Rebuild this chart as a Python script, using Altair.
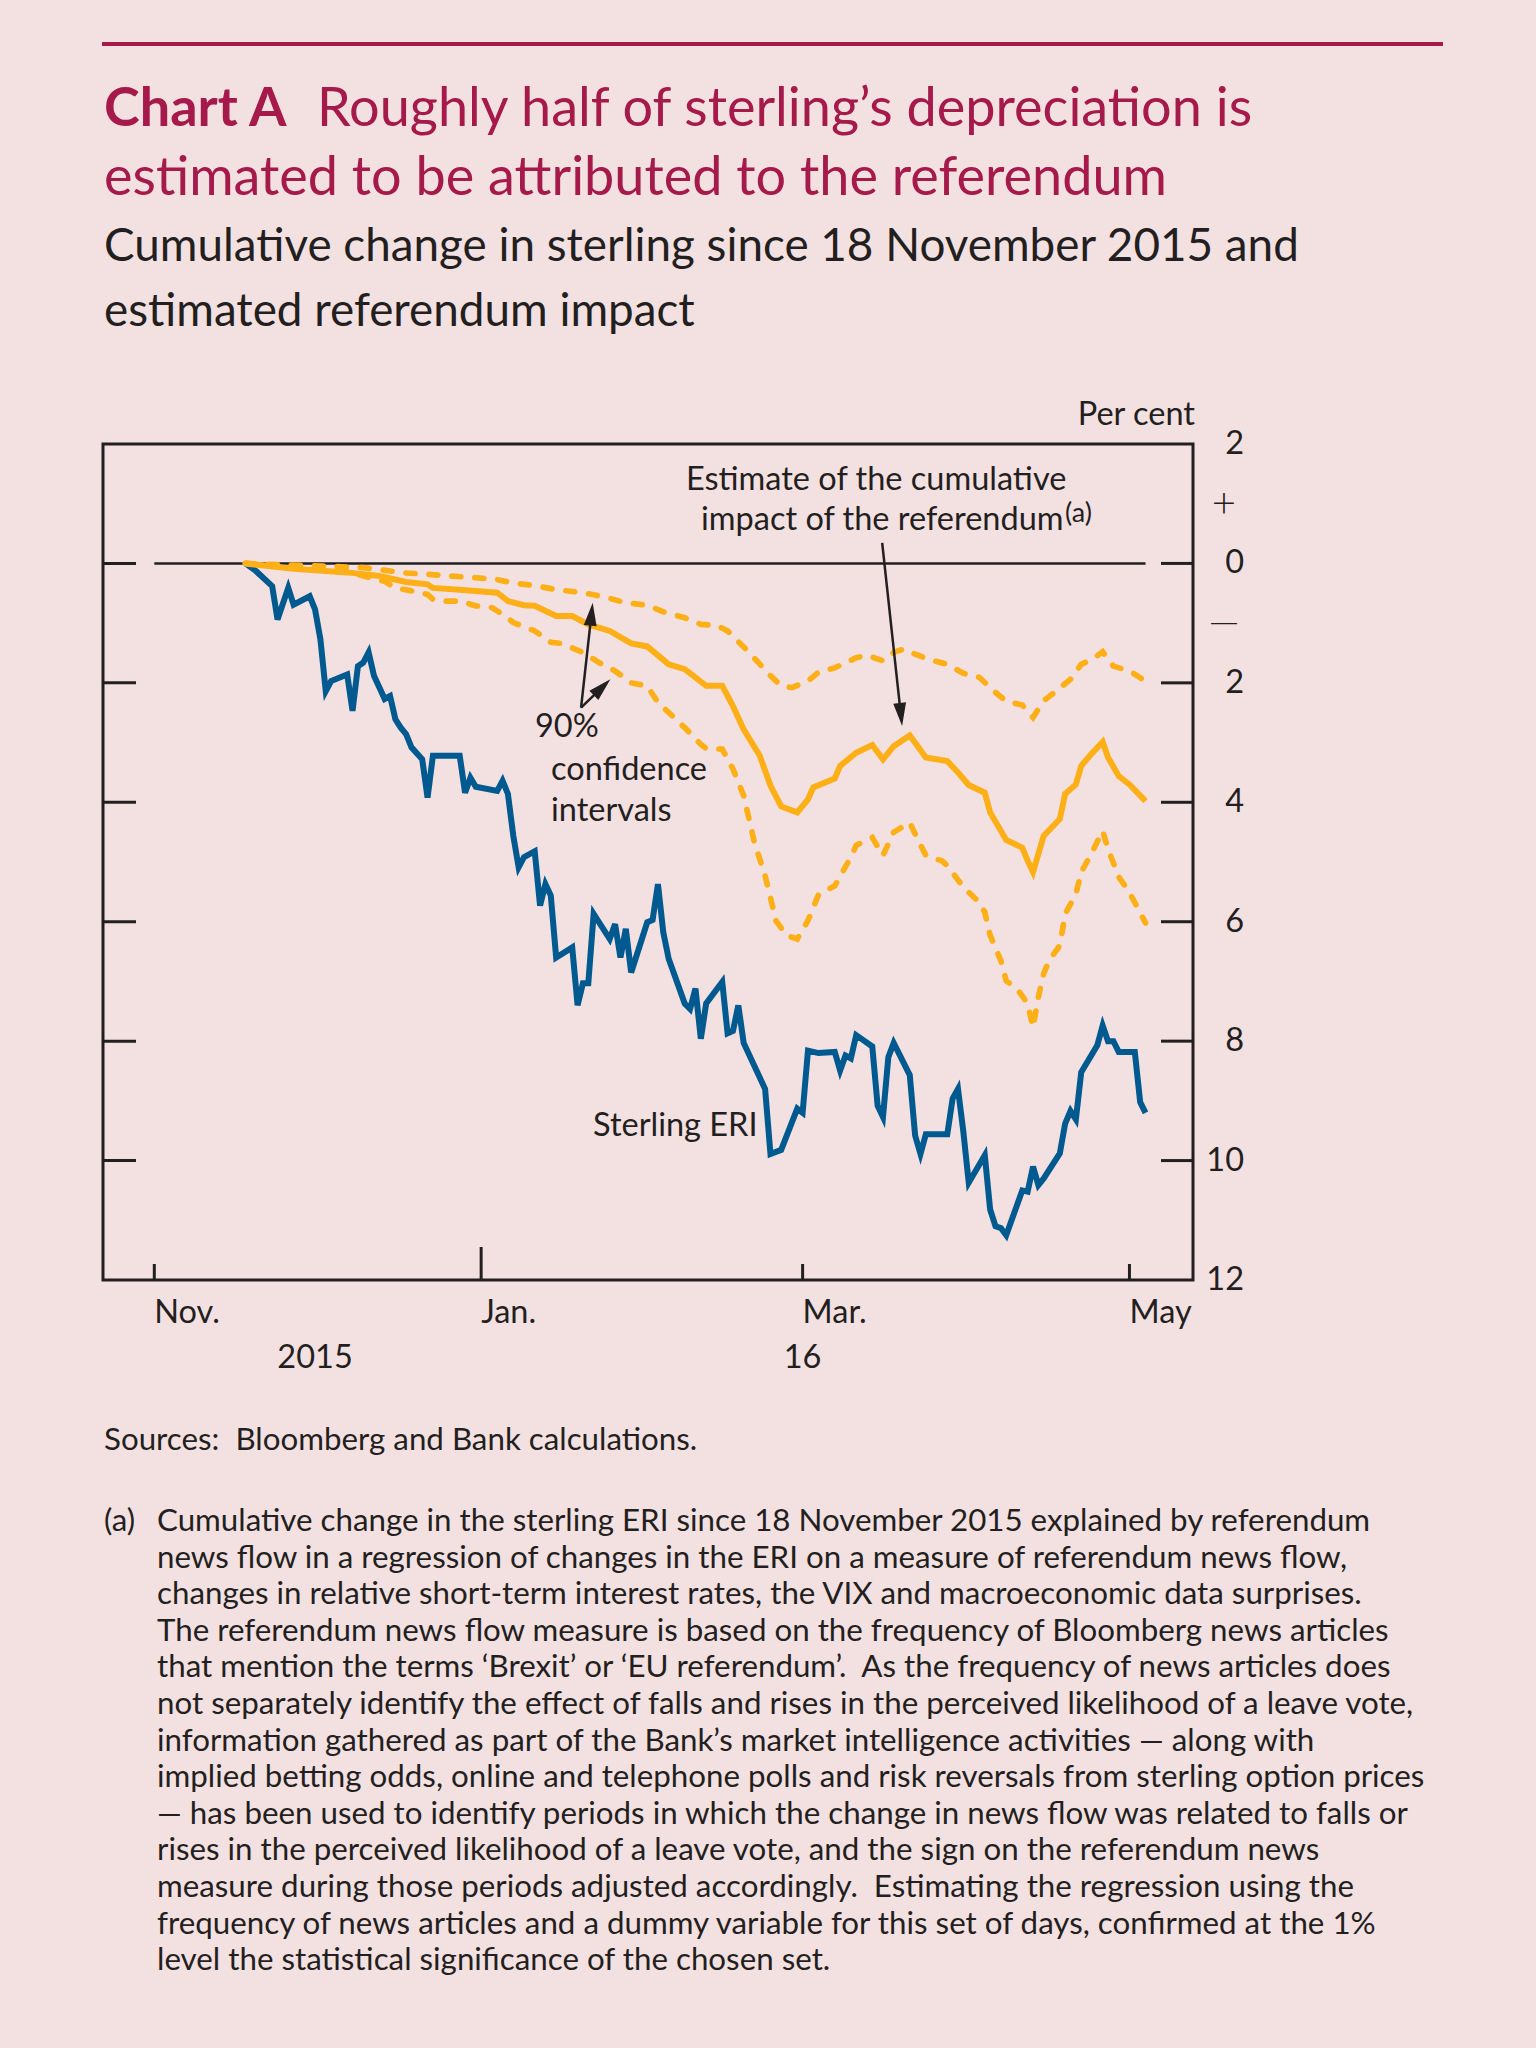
import altair as alt
import pandas as pd

# ---------------- data ----------------
START = "2015-11-18"   # day 0 of every series

# Sterling ERI, cumulative % change since 18 Nov 2015 (day offsets, values)
eri_days = [0, 2, 5, 6, 8, 9, 12, 13, 14, 15, 16, 19, 20, 21, 22, 23, 24, 26, 27, 28,
            29, 30, 31, 33, 34, 35, 40, 41, 42, 43, 47, 48, 49, 50, 51, 52, 54, 55, 56, 57,
            58, 61, 62, 63, 64, 65, 68, 69, 70, 71, 72, 75, 76, 77, 78, 79, 82, 83, 84, 85,
            86, 89, 90, 91, 92, 93, 97, 98, 100, 103, 104, 105, 107, 110, 111, 112, 113, 114, 117, 118,
            119, 120, 121, 124, 125, 126, 127, 131, 132, 133, 134, 135, 138, 139, 140, 141, 142, 145, 146, 147,
            148, 149, 152, 153, 154, 155, 156, 159, 160, 161, 162, 163, 166, 167, 168]
eri_vals = [0, -0.13, -0.38, -0.94, -0.41, -0.69, -0.55, -0.77, -1.27, -2.14, -1.97, -1.86, -2.47, -1.72, -1.66, -1.49, -1.88, -2.27, -2.22, -2.61,
            -2.75, -2.86, -3.08, -3.28, -3.92, -3.22, -3.22, -3.84, -3.59, -3.74, -3.81, -3.64, -3.86, -4.56, -5.09, -4.92, -4.82, -5.73, -5.37, -5.56,
            -6.60, -6.43, -7.40, -7.03, -7.03, -5.87, -6.29, -6.04, -6.60, -6.12, -6.85, -6.01, -5.97, -5.37, -6.18, -6.62, -7.37, -7.46, -7.12, -7.96,
            -7.37, -7.01, -7.87, -7.83, -7.40, -8.03, -8.80, -9.89, -9.82, -9.13, -9.20, -8.16, -8.20, -8.18, -8.49, -8.24, -8.29, -7.90, -8.09, -9.08,
            -9.27, -8.27, -8.03, -8.57, -9.58, -9.89, -9.56, -9.56, -8.96, -8.80, -9.52, -10.37, -9.91, -10.82, -11.10, -11.13, -11.25, -10.50, -10.52, -10.10,
            -10.41, -10.30, -9.88, -9.38, -9.17, -9.31, -8.52, -8.07, -7.74, -8.00, -8.00, -8.18, -8.18, -9.02, -9.20]

# Estimated cumulative referendum impact (central estimate)
est_days = [0, 9, 19, 25, 30, 34, 35, 40, 47, 49, 52, 54, 58, 61, 64, 68, 72, 75, 79, 82,
            86, 89, 91, 93, 96, 98, 100, 103, 105, 106, 110, 111, 114, 117, 119, 121, 124, 127, 131, 133,
            135, 138, 139, 142, 145, 146, 147, 149, 152, 153, 155, 156, 158, 160, 161, 163, 165, 168]
est_vals = [0, -0.09, -0.15, -0.21, -0.31, -0.35, -0.41, -0.44, -0.49, -0.63, -0.70, -0.71, -0.88, -0.88, -1.02, -1.13, -1.34, -1.39, -1.69, -1.77,
            -2.05, -2.05, -2.39, -2.78, -3.22, -3.72, -4.07, -4.17, -3.95, -3.75, -3.60, -3.39, -3.17, -3.04, -3.28, -3.06, -2.88, -3.25, -3.31, -3.50,
            -3.71, -3.84, -4.17, -4.63, -4.76, -4.98, -5.17, -4.56, -4.28, -3.86, -3.70, -3.39, -3.18, -2.99, -3.25, -3.56, -3.70, -3.98]

# 90% confidence interval, upper bound
upper_days = [0, 22, 30, 34, 38, 43, 47, 50, 54, 58, 63, 67, 71, 75, 78, 82, 85, 88, 90, 94,
              98, 100, 102, 105, 107, 110, 114, 116, 119, 121, 123, 125, 128, 131, 134, 137, 140, 142, 145, 147,
              149, 151, 154, 156, 158, 160, 162, 165, 168]
upper_vals = [0, -0.07, -0.16, -0.18, -0.21, -0.24, -0.27, -0.33, -0.37, -0.44, -0.49, -0.56, -0.66, -0.70, -0.81, -0.91, -1.02, -1.04, -1.13, -1.49,
              -1.88, -2.05, -2.08, -1.97, -1.82, -1.75, -1.58, -1.54, -1.63, -1.49, -1.43, -1.52, -1.62, -1.69, -1.84, -1.91, -2.16, -2.31, -2.37, -2.58,
              -2.30, -2.16, -1.94, -1.69, -1.61, -1.48, -1.72, -1.80, -1.97]

# 90% confidence interval, lower bound
lower_days = [0, 19, 22, 26, 28, 31, 34, 35, 37, 40, 43, 46, 48, 50, 52, 54, 57, 59, 63, 66,
              69, 72, 75, 77, 80, 82, 85, 86, 89, 91, 93, 95, 97, 98, 99, 101, 103, 105, 107, 110,
              113, 114, 117, 119, 121, 124, 125, 127, 130, 131, 134, 137, 138, 139, 141, 142, 144, 146, 147, 148,
              149, 150, 152, 153, 155, 156, 158, 160, 161, 163, 165, 167, 168]
lower_vals = [0, -0.13, -0.21, -0.30, -0.41, -0.46, -0.52, -0.60, -0.63, -0.63, -0.71, -0.74, -0.85, -0.99, -1.06, -1.13, -1.32, -1.34, -1.49, -1.66,
              -1.80, -2.00, -2.05, -2.33, -2.58, -2.75, -3.03, -3.10, -3.11, -3.44, -3.89, -4.67, -5.23, -5.60, -5.98, -6.23, -6.29, -5.98, -5.54, -5.40,
              -4.92, -4.72, -4.59, -4.89, -4.50, -4.34, -4.53, -4.89, -4.98, -5.06, -5.42, -5.68, -5.84, -6.23, -6.65, -6.99, -7.12, -7.37, -7.77, -7.26,
              -6.87, -6.65, -6.40, -5.87, -5.54, -5.17, -4.84, -4.48, -4.78, -5.25, -5.51, -5.85, -6.02]

month_tick_dates = ["2015-11-01", "2016-01-01", "2016-03-01", "2016-05-01"]
month_tick_labels = ["Nov.", "Jan.", "Mar.", "May"]
year_label_text = ["2015", "16"]
year_label_dates = ["2015-12-01", "2016-03-01"]
y_tick_values = [2, 0, -2, -4, -6, -8, -10, -12]
y_tick_labels = ["2", "0", "2", "4", "6", "8", "10", "12"]
sign_values = [1, -1]
sign_labels = ["+", "\u2014"]
sign_sizes = [42, 40]
zero_line_days = [-17, 168]          # 1 Nov 2015 to end of data

title_bold = "Chart A"
title_line1 = "Roughly half of sterling\u2019s depreciation is"
title_line2 = "estimated to be attributed to the referendum"
subtitle_lines = ["Cumulative change in sterling since 18 November 2015 and",
                  "estimated referendum impact"]
sources_text = "Sources:\u00a0 Bloomberg and Bank calculations."
note_marker = "(a)"
note_lines = [
    "Cumulative change in the sterling ERI since 18 November 2015 explained by referendum",
    "news flow in a regression of changes in the ERI on a measure of referendum news flow,",
    "changes in relative short-term interest rates, the VIX and macroeconomic data surprises.",
    "The referendum news flow measure is based on the frequency of Bloomberg news articles",
    "that mention the terms \u2018Brexit\u2019 or \u2018EU referendum\u2019.\u00a0 As the frequency of news articles does",
    "not separately identify the effect of falls and rises in the perceived likelihood of a leave vote,",
    "information gathered as part of the Bank\u2019s market intelligence activities \u2014 along with",
    "implied betting odds, online and telephone polls and risk reversals from sterling option prices",
    "\u2014 has been used to identify periods in which the change in news flow was related to falls or",
    "rises in the perceived likelihood of a leave vote, and the sign on the referendum news",
    "measure during those periods adjusted accordingly.\u00a0 Estimating the regression using the",
    "frequency of news articles and a dummy variable for this set of days, confirmed at the 1%",
    "level the statistical significance of the chosen set.",
]

# ---------------- styles ----------------
BG = "#F3E1E2"
DARK = "#231F20"
CRIMSON = "#A6194B"
BLUE = "#005A8F"
ORANGE = "#FCAF17"
FONT = "Lato"
W, H = 1090, 836
CHART_FS = 32.5
NOTE_FS = 31.3
LINE_W = 6
ARROW_PATH = "M0,0L-0.28,-1L0.28,-1Z"   # tip at the origin, pointing down


def to_dates(days):
    ts = pd.Timestamp(START) + pd.to_timedelta(pd.Series(days, dtype=float), unit="D")
    return ts.dt.strftime("%Y-%m-%dT%H:%M:%S").tolist()


def local(d):
    return d + "T00:00:00"


eri_df = pd.DataFrame({"date": to_dates(eri_days), "value": eri_vals})
est_df = pd.DataFrame({"date": to_dates(est_days), "value": est_vals})
ci_df = pd.concat([
    pd.DataFrame({"date": to_dates(upper_days), "value": upper_vals, "band": "upper"}),
    pd.DataFrame({"date": to_dates(lower_days), "value": lower_vals, "band": "lower"}),
])

x_domain = [alt.DateTime(year=2015, month=10, date=22, hours=10, minutes=13),
            alt.DateTime(year=2016, month=5, date=12, hours=20, minutes=38)]
x_scale = alt.Scale(domain=x_domain)
y_scale = alt.Scale(domain=[-12, 2], nice=False, zero=False)

X = lambda f="date": alt.X(f"{f}:T", scale=x_scale, axis=None)
Y = lambda f="value": alt.Y(f"{f}:Q", scale=y_scale, axis=None)

# ---------------- layers ----------------
zero_df = pd.DataFrame({"t0": [to_dates(zero_line_days)[0]], "t1": [to_dates(zero_line_days)[1]], "v": [0]})
zero_line = alt.Chart(zero_df).mark_rule(color=DARK, strokeWidth=2.5).encode(
    x=X("t0"), x2="t1:T", y=Y("v"))

eri_line = alt.Chart(eri_df).mark_line(color=BLUE, strokeWidth=LINE_W, strokeJoin="miter").encode(
    x=X(), y=Y())
ci_lines = alt.Chart(ci_df).mark_line(color=ORANGE, strokeWidth=LINE_W - 0.3, strokeDash=[9, 14],
                                      strokeCap="round").encode(
    x=X(), y=Y(), detail="band:N")
est_line = alt.Chart(est_df).mark_line(color=ORANGE, strokeWidth=LINE_W, strokeJoin="miter").encode(
    x=X(), y=Y())

# frame ticks
ytick_df = pd.DataFrame({"v": y_tick_values[1:-1]})
left_ticks = alt.Chart(ytick_df).mark_rule(color=DARK, strokeWidth=3).encode(
    y=Y("v"), x=alt.value(0), x2=alt.value(33))
right_ticks = alt.Chart(ytick_df).mark_rule(color=DARK, strokeWidth=3).encode(
    y=Y("v"), x=alt.value(W - 32), x2=alt.value(W))
xt = pd.DataFrame({"d": [local(d) for d in month_tick_dates],
                   "long": [d.endswith("01-01") for d in month_tick_dates],
                   "lab": month_tick_labels})
short_ticks = alt.Chart(xt[~xt["long"]]).mark_rule(color=DARK, strokeWidth=3).encode(
    x=X("d"), y=alt.value(H), y2=alt.value(H - 16))
long_ticks = alt.Chart(xt[xt["long"]]).mark_rule(color=DARK, strokeWidth=3).encode(
    x=X("d"), y=alt.value(H), y2=alt.value(H - 33))

# axis labels
x_labels = alt.Chart(xt).mark_text(fontSize=CHART_FS, color=DARK, align="left",
                                   baseline="alphabetic", font=FONT).encode(
    x=X("d"), y=alt.value(H + 43), text="lab:N")
ylab_df = pd.DataFrame({"v": y_tick_values, "lab": y_tick_labels})
y_labels = alt.Chart(ylab_df).mark_text(fontSize=CHART_FS, color=DARK, align="right",
                                        baseline="middle", font=FONT).encode(
    y=Y("v"), x=alt.value(W + 51), text="lab:N")
sign_df = pd.DataFrame({"v": sign_values, "s": sign_labels, "fs": sign_sizes})
signs = alt.Chart(sign_df).mark_text(color=DARK, align="center",
                                     baseline="middle", font=FONT, fontWeight=300).encode(
    y=Y("v"), x=alt.value(W + 31), text="s:N", size=alt.Size("fs:Q", scale=None, legend=None))
year_df = pd.DataFrame({"d": [local(d) for d in year_label_dates], "t": year_label_text})
years = alt.Chart(year_df).mark_text(fontSize=CHART_FS, color=DARK, align="center",
                                     baseline="alphabetic", font=FONT).encode(
    x=X("d"), y=alt.value(H + 88), text="t:N")

# arrows (annotation geometry, in day offsets / per cent)
shaft_df = pd.DataFrame({
    "t0": to_dates([118.85, 62.65, 62.65]), "v0": [0.344, -2.415, -2.415],
    "t1": to_dates([122.32, 64.58, 66.52]), "v1": [-2.522, -0.858, -2.079],
})
head_df = pd.DataFrame({
    "t": to_dates([122.57, 64.82, 68.12]), "v": [-2.721, -0.659, -1.940],
    "a": [353.8, 186.3, 225.9],
})
shafts = alt.Chart(shaft_df).mark_rule(color=DARK, strokeWidth=2.5).encode(
    x=X("t0"), x2="t1:T", y=Y("v0"), y2="v1:Q")
heads = alt.Chart(head_df).mark_point(shape=ARROW_PATH, size=2116, filled=True, opacity=1,
                                      color=DARK, strokeWidth=0).encode(
    x=X("t"), y=Y("v"), angle=alt.Angle("a:Q", scale=None))


def txt(text, x, y, size=CHART_FS, color=DARK, align="left", weight="normal", baseline="alphabetic", **kw):
    return alt.Chart(pd.DataFrame({"k": [0]})).mark_text(
        text=text, fontSize=size, color=color, align=align, baseline=baseline,
        fontWeight=weight, font=FONT, **kw).encode(x=alt.value(x), y=alt.value(y))


annotations = [
    txt("Estimate of the cumulative", 583, 46),
    txt("impact of the referendum", 598, 86),
    txt("(a)", 962, 78, size=27),
    txt("90%", 432, 293),
    txt("confidence", 448, 336),
    txt("intervals", 448, 377),
    txt("Sterling ERI", 490, 692),
    txt("Per cent", W + 2, -19, align="right"),
]

top_rule = alt.Chart(pd.DataFrame({"k": [0]})).mark_rule(color=CRIMSON, strokeWidth=4).encode(
    x=alt.value(-1), x2=alt.value(1340), y=alt.value(-400))

titles = [
    txt(title_bold, 1, -318, size=54, color=CRIMSON, weight="bold"),
    txt(title_line1, 214, -318, size=54, color=CRIMSON),
    txt(title_line2, 1, -249, size=54, color=CRIMSON),
    txt(subtitle_lines[0], 1, -183, size=45.8),
    txt(subtitle_lines[1], 1, -118, size=45.8),
    txt(sources_text, 1, 1006, size=NOTE_FS),
    txt(note_marker, 1, 1087, size=NOTE_FS),
    txt(note_lines, 54, 1087, size=NOTE_FS, lineHeight=36.6),
]

chart = alt.layer(
    zero_line, eri_line, ci_lines, est_line, left_ticks, right_ticks, short_ticks, long_ticks,
    x_labels, y_labels, signs, years, shafts, heads, top_rule, *annotations, *titles,
).properties(
    width=W, height=H,
    padding={"left": 103, "top": 444, "right": 343, "bottom": 768},
    autosize=alt.AutoSizeParams(type="none"),
).configure(background=BG, font=FONT).configure_view(stroke=DARK, strokeWidth=3)

chart.save("out.html", embed_options={"renderer": "svg", "actions": False})
